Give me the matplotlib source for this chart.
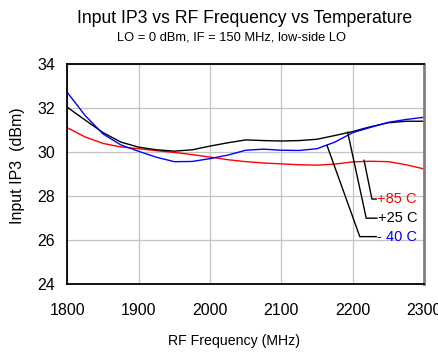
import matplotlib
matplotlib.use("Agg")
import matplotlib.pyplot as plt

plt.rcParams['font.family'] = ['Liberation Sans', 'DejaVu Sans']

# RF frequency (MHz) and input IP3 (dBm) for each temperature
freq = [1800, 1825, 1850, 1875, 1900, 1925, 1950, 1975, 2000, 2025, 2050,
        2075, 2100, 2125, 2150, 2175, 2200, 2225, 2250, 2275, 2300]
iip3_25 = [32.03, 31.45, 30.88, 30.45, 30.22, 30.10, 30.04, 30.10, 30.27, 30.42, 30.55,
           30.52, 30.50, 30.52, 30.58, 30.75, 30.93, 31.15, 31.33, 31.40, 31.40]
iip3_m40 = [32.70, 31.65, 30.82, 30.32, 30.03, 29.76, 29.56, 29.57, 29.70, 29.86, 30.08,
            30.13, 30.08, 30.07, 30.15, 30.45, 30.88, 31.12, 31.35, 31.48, 31.58]
iip3_85 = [31.10, 30.68, 30.39, 30.23, 30.15, 30.06, 29.98, 29.88, 29.77, 29.65, 29.56,
           29.50, 29.46, 29.42, 29.40, 29.45, 29.55, 29.58, 29.56, 29.42, 29.23]

xticks = [1800, 1900, 2000, 2100, 2200, 2300]
yticks = [24, 26, 28, 30, 32, 34]

# leader lines: point on curve -> elbow -> label end
labels = ["+85 C", "+25 C", "- 40 C"]
label_colors = ["red", "black", "blue"]
leaders = [
    ([2216, 2227, 2233], [29.62, 27.86, 27.86]),
    ([2193, 2219, 2234], [30.90, 26.99, 26.99]),
    ([2164, 2210, 2233], [30.30, 26.15, 26.15]),
]

fig = plt.figure(figsize=(4.38, 3.54), dpi=100)
ax = fig.add_axes([0.154, 0.198, 0.814, 0.621])

ax.plot(freq, iip3_85, color="red", lw=1.0)
ax.plot(freq, iip3_25, color="black", lw=1.0)
ax.plot(freq, iip3_m40, color="blue", lw=1.0)

for (lx, ly), txt, c in zip(leaders, labels, label_colors):
    ax.plot(lx, ly, color="black", lw=1.0)
    ax.text(lx[-1] + 1, ly[-1], txt, color=c, fontsize=10.5, va="center", ha="left")

ax.set_xlim(1800, 2300)
ax.set_ylim(24, 34)
ax.set_xticks(xticks)
ax.set_yticks(yticks)
ax.grid(True, color="#c4c4c4", lw=0.9)
ax.tick_params(length=0, labelsize=11.5)
ax.tick_params(axis="x", pad=14)
ax.tick_params(axis="y", pad=9)

for s in ["left", "top", "bottom"]:
    ax.spines[s].set_linewidth(1.3)
    ax.spines[s].set_color("black")
ax.spines["right"].set_color("#808080")
ax.spines["right"].set_linewidth(2.0)

ax.set_xlabel("RF Frequency (MHz)", fontsize=10.2)
ax.xaxis.set_label_coords(0.467, -0.228)
ax.set_ylabel("Input IP3  (dBm)", fontsize=11.5)
ax.yaxis.set_label_coords(-0.118, 0.54)

fig.text(0.559, 0.948, "Input IP3 vs RF Frequency vs Temperature", fontsize=12.7,
         ha="center", va="center")
fig.text(0.528, 0.893, "LO = 0 dBm, IF = 150 MHz, low-side LO", fontsize=9.3,
         ha="center", va="center")

fig.savefig("out.png", dpi=100)
